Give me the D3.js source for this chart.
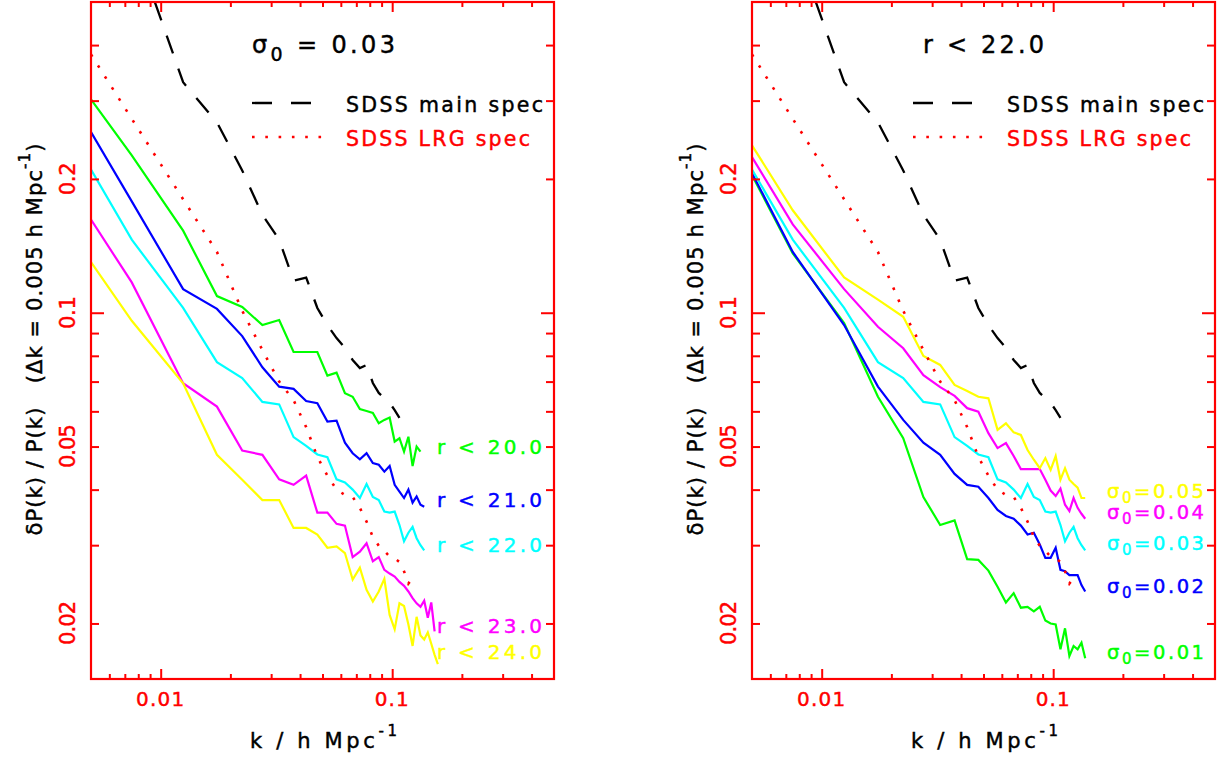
<!DOCTYPE html>
<html><head><meta charset="utf-8">
<script src="https://cdn.jsdelivr.net/npm/d3@7"></script>
<style>
html,body{margin:0;padding:0;background:#fff;}
svg{display:block;font-family:"DejaVu Sans",Verdana,sans-serif;}
</style></head><body>
<svg id="chart" width="1222" height="758"></svg>
<script>
// ---------------- data ----------------
// k bins (h/Mpc); first entry is the left edge of the plotted range
const kBins = [0.005, 0.0075, 0.0125, 0.0175, 0.0225, 0.0275, 0.0325, 0.0375, 0.0425, 0.0475,
  0.0525, 0.0575, 0.0625, 0.0675, 0.0725, 0.0775, 0.0825, 0.0875, 0.0925, 0.0975,
  0.1025, 0.1075, 0.1125, 0.1175, 0.1225, 0.1275, 0.1325, 0.1375, 0.1425, 0.1475, 0.1525, 0.1575];

// reference surveys
const sdssMain = [null, 0.702, 0.330, 0.268, 0.209, 0.166, 0.146, 0.118, 0.120, 0.1025, 0.0938,
  0.0877, 0.0833, 0.0783, 0.0751, 0.0763, 0.0695, 0.0660, 0.0643, 0.0627, 0.0604, 0.0580];
const sdssLRG = [0.381, 0.273, 0.180, 0.137, 0.101, 0.0824, 0.0700, 0.0636, 0.0553, 0.0474, 0.0430,
  0.0400, 0.0389, 0.0385, 0.0364, 0.0339, 0.0313, 0.0299, 0.0291, 0.0283, 0.0280, 0.0275, 0.0262, 0.0246, 0.0253];

// left panel: sigma0 = 0.03, varying magnitude limit
const r20 = [0.302, 0.226, 0.153, 0.109, 0.103, 0.0938, 0.0963, 0.0816, 0.0816, 0.0816, 0.0722, 0.0733,
  0.0659, 0.0647, 0.0607, 0.0601, 0.0595, 0.0564, 0.0574, 0.0581, 0.0513, 0.0522, 0.0487, 0.0526, 0.0452, 0.0500, 0.0487];
const r21 = [0.255, 0.178, 0.113, 0.102, 0.0886, 0.0754, 0.0682, 0.0674, 0.0633, 0.0626, 0.0569, 0.0572,
  0.0510, 0.0483, 0.0468, 0.0483, 0.0459, 0.0455, 0.0439, 0.0452, 0.0410, 0.0396, 0.0383, 0.0400, 0.0374, 0.0386, 0.0370, 0.0366];
const r22s03 = [0.210, 0.146, 0.1025, 0.0774, 0.0713, 0.0630, 0.0622, 0.0525, 0.0502, 0.0480, 0.0473, 0.0422,
  0.0415, 0.0400, 0.0383, 0.0412, 0.0385, 0.0379, 0.0357, 0.0355, 0.0357, 0.0333, 0.0306, 0.0320, 0.0330, 0.0311, 0.0300, 0.0292];
const r23 = [0.162, 0.117, 0.0694, 0.0615, 0.0490, 0.0479, 0.0422, 0.0410, 0.0430, 0.0355, 0.0355, 0.0335,
  0.0332, 0.0282, 0.0290, 0.0303, 0.0276, 0.0282, 0.0264, 0.0259, 0.0255, 0.0248, 0.0243, 0.0236, 0.0228,
  0.0222, 0.0218, 0.0225, 0.0206, 0.0223, 0.0192];
const r24 = [0.130, 0.0959, 0.0694, 0.0479, 0.0421, 0.0379, 0.0379, 0.0328, 0.0328, 0.0317, 0.0296, 0.0298,
  0.0288, 0.0251, 0.0267, 0.0238, 0.0224, 0.0236, 0.0252, 0.0209, 0.0194, 0.0222, 0.0219, 0.0199, 0.0178,
  0.0207, 0.0188, 0.0184, 0.0191, 0.0180, 0.0170, 0.0162];

// right panel: r < 22.0, varying sigma0
const s05 = [0.238, 0.170, 0.120, 0.107, 0.0979, 0.0799, 0.0763, 0.0688, 0.0667, 0.0647, 0.0642, 0.0545,
  0.0564, 0.0538, 0.0531, 0.0491, 0.0467, 0.0447, 0.0471, 0.0443, 0.0476, 0.0421, 0.0447, 0.0421, 0.0412, 0.0404, 0.0383, 0.0383];
const s04 = [0.224, 0.158, 0.113, 0.0930, 0.0832, 0.0724, 0.0680, 0.0650, 0.0610, 0.0599, 0.0536, 0.0496,
  0.0509, 0.0476, 0.0445, 0.0445, 0.0445, 0.0445, 0.0421, 0.0398, 0.0387, 0.0402, 0.0370, 0.0358, 0.0383, 0.0364, 0.0353, 0.0344];
const s02 = [0.206, 0.137, 0.0938, 0.0682, 0.0574, 0.0510, 0.0479, 0.0434, 0.0410, 0.0406, 0.0383, 0.0360,
  0.0349, 0.0344, 0.0332, 0.0317, 0.0320, 0.0301, 0.0281, 0.0281, 0.0296, 0.0264, 0.0262, 0.0257, 0.0257, 0.0257, 0.0244, 0.0236];
const s01 = [0.204, 0.136, 0.0948, 0.0647, 0.0522, 0.0385, 0.0333, 0.0341, 0.0279, 0.0278, 0.0263, 0.0242,
  0.0223, 0.0234, 0.0217, 0.0218, 0.0213, 0.0218, 0.0203, 0.0200, 0.0199, 0.0175, 0.0195, 0.0169, 0.0178, 0.0175, 0.0181, 0.0167];

const xMajorTicks = [0.01, 0.1];
const xMinorTicks = [0.006, 0.007, 0.008, 0.009, 0.02, 0.03, 0.04, 0.05, 0.06, 0.07, 0.08, 0.09, 0.2, 0.3, 0.4];
const yMajorTicks = [0.1];
const yMinorTicks = [0.02, 0.03, 0.04, 0.05, 0.06, 0.07, 0.08, 0.09, 0.2, 0.3, 0.4];
const xTickLabels = ["0.01", "0.1"];
const yTickLabels = ["0.02", "0.05", "0.1", "0.2"];

const leftTitle = {main: "σ", sub: "0", rest: " = 0.03"};
const rightTitle = "r < 22.0";
const legendNames = ["SDSS main spec", "SDSS LRG spec"];
const leftNames = ["r < 20.0", "r < 21.0", "r < 22.0", "r < 23.0", "r < 24.0"];
const rightNames = ["0.05", "0.04", "0.03", "0.02", "0.01"];

// ---------------- layout ----------------
const COLORS = {green: "#00ff00", blue: "#0000ff", cyan: "#00ffff", magenta: "#ff00ff", yellow: "#ffff00", red: "#ff0000"};
const svg = d3.select("#chart");
svg.append("rect").attr("width", 1222).attr("height", 758).attr("fill", "#fff");
const yTop = 2, yBot = 679;
const panels = [
  {x0: 91, x1: 554, series: [r20, r21, r22s03, r23, r24], colors: [COLORS.green, COLORS.blue, COLORS.cyan, COLORS.magenta, COLORS.yellow]},
  {x0: 752, x1: 1215, series: [s01, s02, r22s03, s04, s05], colors: [COLORS.green, COLORS.blue, COLORS.cyan, COLORS.magenta, COLORS.yellow]}
];

function fit(sel, target) {
  const node = sel.node();
  const w = node.getComputedTextLength();
  const n = node.textContent.length;
  sel.attr("letter-spacing", (target - w) / Math.max(1, n - 1));
  return sel;
}
// slightly heavier strokes, like the stroked vector font of the original
function txt(parent, color) {
  return parent.append("text").attr("fill", color).attr("stroke", color).attr("stroke-width", 0.45);
}

panels.forEach((p, pi) => {
  const x = d3.scaleLog().domain([0.005, 0.5]).range([p.x0, p.x1]);
  const y = d3.scaleLog().domain([0.015, 0.5]).range([yBot, yTop]);
  const g = svg.append("g");
  const clipId = "clip" + pi;
  svg.append("clipPath").attr("id", clipId).append("rect")
    .attr("x", p.x0).attr("y", yTop).attr("width", p.x1 - p.x0).attr("height", yBot - yTop);
  const plot = g.append("g").attr("clip-path", `url(#${clipId})`);
  const line = d3.line().defined(d => d[1] != null).x(d => x(d[0])).y(d => y(d[1]));
  const pts = arr => arr.map((v, i) => [kBins[i], v]);

  // colored series
  p.series.forEach((s, i) => {
    plot.append("path").attr("d", line(pts(s))).attr("fill", "none")
      .attr("stroke", p.colors[i]).attr("stroke-width", 2.2).attr("stroke-linejoin", "miter");
  });
  // reference surveys
  plot.append("path").attr("d", line(pts(sdssMain))).attr("fill", "none")
    .attr("stroke", "#000").attr("stroke-width", 2.3).attr("stroke-dasharray", "19,16");
  plot.append("path").attr("d", line(pts(sdssLRG))).attr("fill", "none")
    .attr("stroke", COLORS.red).attr("stroke-width", 2.6).attr("stroke-dasharray", "2.6,10.4");

  // frame
  g.append("rect").attr("x", p.x0).attr("y", yTop).attr("width", p.x1 - p.x0).attr("height", yBot - yTop)
    .attr("fill", "none").attr("stroke", COLORS.red).attr("stroke-width", 2.2);
  const axes = [
    [d3.axisBottom(x).tickValues(xMajorTicks).tickSize(-10), `translate(0,${yBot})`],
    [d3.axisBottom(x).tickValues(xMinorTicks).tickSize(-5), `translate(0,${yBot})`],
    [d3.axisTop(x).tickValues(xMajorTicks).tickSize(-10), `translate(0,${yTop})`],
    [d3.axisTop(x).tickValues(xMinorTicks).tickSize(-5), `translate(0,${yTop})`],
    [d3.axisLeft(y).tickValues(yMajorTicks).tickSize(-13), `translate(${p.x0},0)`],
    [d3.axisLeft(y).tickValues(yMinorTicks).tickSize(-8), `translate(${p.x0},0)`],
    [d3.axisRight(y).tickValues(yMajorTicks).tickSize(-13), `translate(${p.x1},0)`],
    [d3.axisRight(y).tickValues(yMinorTicks).tickSize(-8), `translate(${p.x1},0)`]
  ];
  axes.forEach(([ax, tr]) => {
    const a = g.append("g").attr("transform", tr).call(ax.tickFormat("").tickSizeOuter(0));
    a.select(".domain").remove();
    a.selectAll("line").attr("stroke", COLORS.red).attr("stroke-width", 2);
  });
  // tick labels
  xTickLabels.forEach(t => {
    const tx = txt(g, COLORS.red).attr("x", x(+t)).attr("y", 706).attr("text-anchor", "middle")
      .attr("font-size", 20).text(t);
    fit(tx, t.length === 4 ? 48 : 34);
  });
  yTickLabels.forEach(t => {
    const ty = txt(g, COLORS.red).attr("transform", `translate(${p.x0 - 16},${y(+t)}) rotate(-90)`)
      .attr("text-anchor", "middle").attr("font-size", 21).text(t);
    fit(ty, t.length === 4 ? 44 : 33);
  });
  // axis titles
  const xt = txt(g, "#000").attr("x", p.x0 + 159).attr("y", 748).attr("font-size", 21);
  xt.append("tspan").text("k / h Mpc");
  xt.append("tspan").attr("dy", -12).attr("font-size", 15).text("-1");
  fit(xt, 147);
  const yt = txt(g, "#000").attr("transform", `translate(${p.x0 - 49},339) rotate(-90)`)
    .attr("text-anchor", "middle").attr("font-size", 21);
  yt.append("tspan").text("δP(k) / P(k)\u00a0\u00a0\u00a0(Δk = 0.005 h Mpc");
  yt.append("tspan").attr("dy", -12).attr("font-size", 15).text("-1");
  yt.append("tspan").attr("dy", 12).text(")");
  fit(yt, 392);

  // legend
  const lx = p.x0 + 161;
  g.append("line").attr("x1", lx).attr("x2", lx + 60).attr("y1", 103).attr("y2", 103)
    .attr("stroke", "#000").attr("stroke-width", 2.3).attr("stroke-dasharray", "20,19");
  g.append("line").attr("x1", lx).attr("x2", lx + 71).attr("y1", 137).attr("y2", 137)
    .attr("stroke", COLORS.red).attr("stroke-width", 2.6).attr("stroke-dasharray", "2.6,10.7");
  fit(txt(g, "#000").attr("x", lx + 94).attr("y", 112).attr("font-size", 20.5).text(legendNames[0]), 197);
  fit(txt(g, COLORS.red).attr("x", lx + 94).attr("y", 146).attr("font-size", 20.5).text(legendNames[1]), 184);

  if (pi === 0) {
    const tt = txt(g, "#000").attr("x", lx).attr("y", 53).attr("font-size", 24);
    tt.append("tspan").text(leftTitle.main);
    tt.append("tspan").attr("dy", 8).attr("font-size", 19).text(leftTitle.sub);
    tt.append("tspan").attr("dy", -8).text(leftTitle.rest);
    fit(tt, 143);
    const lab = [[454, 0], [507, 1], [552, 2], [633, 3], [659, 4]];
    lab.forEach(([by, i]) => {
      fit(txt(g, p.colors[i]).attr("x", 437).attr("y", by).attr("font-size", 20).text(leftNames[i]), 105);
    });
  } else {
    fit(txt(g, "#000").attr("x", p.x0 + 171).attr("y", 53).attr("font-size", 24).text(rightTitle), 121);
    const order = [COLORS.yellow, COLORS.magenta, COLORS.cyan, COLORS.blue, COLORS.green];
    const bys = [498, 519, 550, 593, 659];
    rightNames.forEach((nm, i) => {
      const t = txt(g, order[i]).attr("x", 1107).attr("y", bys[i]).attr("font-size", 19.5);
      t.append("tspan").text("σ");
      t.append("tspan").attr("dy", 5).attr("font-size", 15).text("0");
      t.append("tspan").attr("dy", -5).text("=" + nm);
      fit(t, 97);
    });
  }
});
</script>
</body></html>
